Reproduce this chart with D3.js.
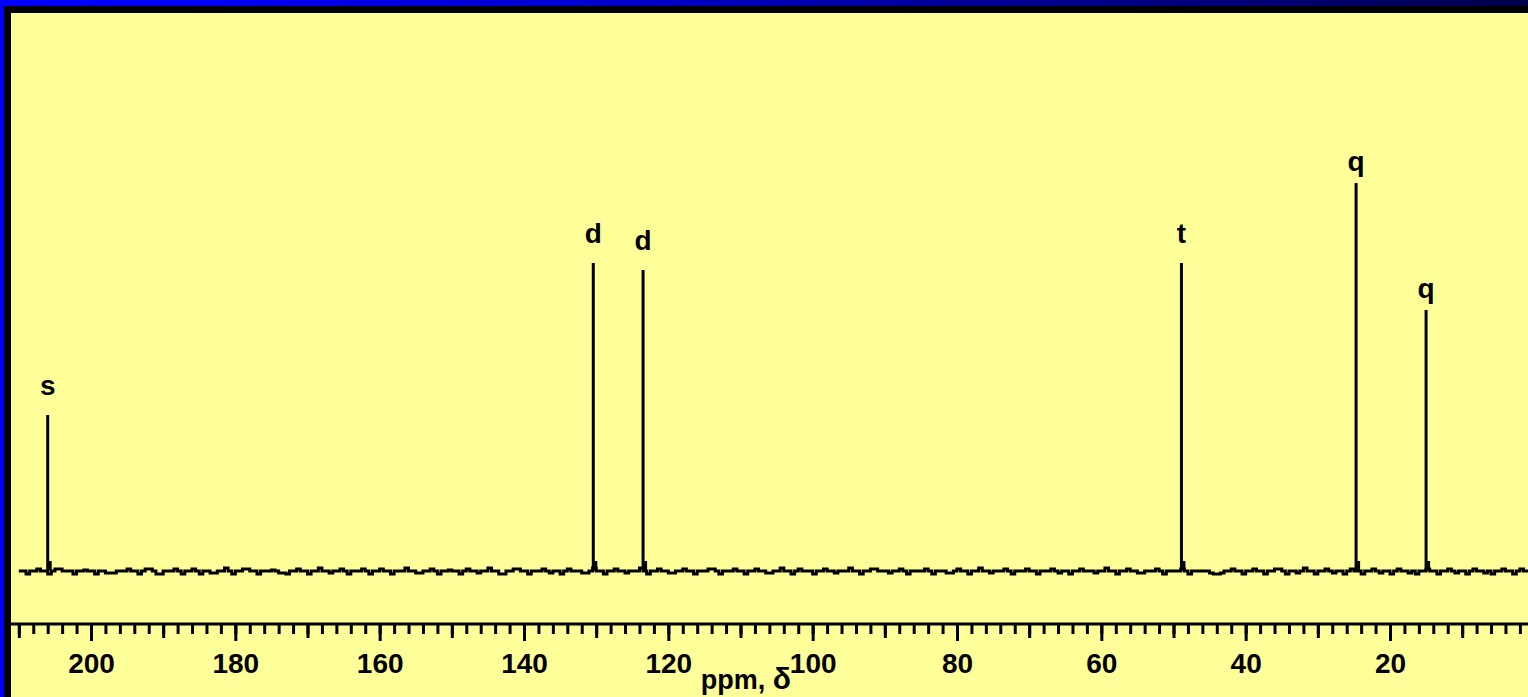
<!DOCTYPE html>
<html>
<head>
<meta charset="utf-8">
<script src="https://cdnjs.cloudflare.com/ajax/libs/d3/7.8.5/d3.min.js"></script>
<style>
  body { margin: 0; background: #ffff99; overflow: hidden; }
  text { font-family: "Liberation Sans", Arial, sans-serif; font-weight: bold; fill: #000; }
</style>
</head>
<body>
<div id="chart"></div>
<script>
// 13C spectrum: peak shifts (ppm), heights (counts) and multiplicities
const shifts = [206.0, 130.4, 123.5, 48.9, 24.7, 15.0];
const heights = [156, 308, 301, 308, 388, 261];
const mults = ["s", "d", "d", "t", "q", "q"];

// axis labels
const tickLabels = [200, 180, 160, 140, 120, 100, 80, 60, 40, 20];

// baseline noise, sampled every 0.5 ppm from 210 ppm down to 0 ppm
const noiseStart = 210, noiseStep = 0.5;
const noise = [
  0,0,-3,0,0,2,0,0,-3,0,2,2,0,0,0,-3,0,0,1,0,
  0,-3,0,0,-2,-2,-2,0,0,0,2,0,0,-3,0,2,2,0,-3,-3,
  0,0,0,2,0,-3,0,0,2,0,-3,0,0,-2,-2,0,0,3,0,-3,
  0,0,2,2,0,0,-3,0,0,0,1,0,-2,-2,-3,0,0,2,0,0,
  -3,0,0,3,0,0,-2,0,0,2,0,-3,0,0,0,2,0,-3,0,0,
  2,0,0,-3,0,0,0,3,0,0,-2,-2,0,0,2,0,-3,0,0,1,
  0,0,-3,0,2,0,0,-2,0,0,3,0,0,-3,-3,0,0,2,2,0,
  0,-3,0,0,0,2,0,-2,0,0,-3,0,2,0,0,0,-2,-2,0,3,
  0,0,-3,0,0,2,0,0,-2,0,0,0,3,0,-3,0,0,2,0,0,
  -2,-2,0,0,2,0,0,-3,0,0,0,2,2,0,-3,0,0,0,2,0,
  0,-3,0,0,2,0,0,-2,-2,0,0,3,0,0,-3,0,2,0,0,0,
  -3,0,0,2,0,0,-2,0,0,0,3,0,0,-3,0,0,2,2,0,0,
  0,-2,0,0,2,0,-3,0,0,0,0,2,0,-3,0,0,0,-2,-2,0,
  2,0,0,-3,0,0,3,0,0,-2,0,0,0,2,0,-3,0,0,0,2,
  0,0,-3,0,0,0,2,0,-2,0,0,-3,0,0,2,0,0,0,-2,0,
  0,3,0,0,-3,0,0,2,0,0,-2,-2,0,0,0,2,0,-3,0,0,
  0,0,2,0,-3,0,0,0,0,0,-2,-3,-3,-2,0,0,2,0,0,-3,
  0,0,2,0,0,-3,0,0,2,2,0,-3,0,0,-2,0,3,0,0,-3,
  0,0,2,0,-2,0,0,-3,0,2,0,0,-3,0,0,2,0,-2,0,0,
  -3,0,2,0,0,-2,0,-3,0,0,2,0,0,-3,0,0,2,0,-2,0,
  0,-3,0,2,0,0,-2,0,-3,0,0,2,0,0,-3,0,2,0,0,-2,
  0
];

const W = 1528, H = 697;
const svg = d3.select("#chart").append("svg")
  .attr("width", W).attr("height", H)
  .style("display", "block");

// frame: blue gradient top, blue left, black inner band
const grad = svg.append("defs").append("linearGradient")
  .attr("id", "topgrad").attr("x1", "0").attr("x2", "1").attr("y1", "0").attr("y2", "0");
[[0, "#0000ff"], [0.15, "#0000f4"], [0.4, "#0000cc"], [0.6, "#00009e"], [0.85, "#000070"], [1, "#00004a"]]
  .forEach(s => grad.append("stop").attr("offset", s[0]).attr("stop-color", s[1]));

svg.append("rect").attr("x", 0).attr("y", 0).attr("width", W).attr("height", H).attr("fill", "#ffff99");
svg.append("rect").attr("x", 0).attr("y", 0).attr("width", W).attr("height", 6).attr("fill", "url(#topgrad)");
svg.append("rect").attr("x", 0).attr("y", 0).attr("width", 4).attr("height", H).attr("fill", "#0000ff");
svg.append("rect").attr("x", 4).attr("y", 6).attr("width", W).attr("height", 7).attr("fill", "#000");
svg.append("rect").attr("x", 4).attr("y", 6).attr("width", 7).attr("height", H).attr("fill", "#000");

let x = d3.scaleLinear().domain([200, 20]).range([91, 1390]);
let y = d3.scaleLinear().domain([0, 400]).range([571, 171]);

// baseline with noise
let noisePts = noise.map((v, i) => ({ ppm: noiseStart - i * noiseStep, v: v }));
let line = d3.line()
  .x(d => x(d.ppm))
  .y(d => y(d.v))
  .curve(d3.curveStepAfter);

svg.append("path")
  .datum(noisePts)
  .attr("d", line)
  .attr("fill", "none")
  .attr("stroke", "#000")
  .attr("stroke-width", 3);

let peaks = shifts.map((p, i) => ({ ppm: p, h: heights[i], m: mults[i] }));

// the sticks
svg.append("g").selectAll("line.peak")
  .data(peaks)
  .enter().append("line")
  .attr("class", "peak")
  .attr("x1", d => x(d.ppm)).attr("x2", d => x(d.ppm))
  .attr("y1", y(0)).attr("y2", d => y(d.h))
  .attr("stroke", "#000").attr("stroke-width", 3);

// little thick foot on the right side of every stick
svg.append("g").selectAll("line.foot")
  .data(peaks)
  .enter().append("line")
  .attr("class", "foot")
  .attr("x1", d => x(d.ppm - 0.35)).attr("x2", d => x(d.ppm - 0.35))
  .attr("y1", y(1)).attr("y2", y(10))
  .attr("stroke", "#000").attr("stroke-width", 3);

// multiplicity letters (q has a descender, so it sits closer)
svg.append("g").selectAll("text")
  .data(peaks)
  .enter().append("text")
  .attr("x", d => x(d.ppm))
  .attr("y", d => y(d.h) - (d.m == "q" ? 12 : 20))
  .attr("text-anchor", "middle")
  .style("font-size", "28px")
  .text(d => d.m);

// axis line
svg.append("line")
  .attr("x1", 11).attr("x2", W)
  .attr("y1", 624).attr("y2", 624)
  .attr("stroke", "#000").attr("stroke-width", 3);

function drawTicks(values, size, labels) {
  let ax = d3.axisBottom(x)
    .tickValues(values)
    .tickSize(size)
    .tickSizeOuter(0)
    .tickPadding(12)
    .tickFormat(labels ? d3.format("d") : "");
  let g = svg.append("g")
    .attr("transform", "translate(0,625)")
    .call(ax);
  g.select(".domain").remove();
  g.selectAll(".tick line").attr("stroke", "#000").attr("stroke-width", 3);
  g.selectAll(".tick text")
    .style("font-size", "28px")
    .attr("fill", "#000");
  return g;
}

drawTicks(d3.range(0, 212, 2), 9, false);
drawTicks(d3.range(10, 220, 20), 13, false);
drawTicks(tickLabels, 16, true);

// axis title, tucked between the 120 and 100 labels
let title = svg.append("text")
  .attr("x", 791).attr("y", 689)
  .attr("text-anchor", "end")
  .style("font-size", "27px");
title.append("tspan").text("ppm, ");
title.append("tspan").style("font-size", "30px").text("δ");
</script>
</body>
</html>
